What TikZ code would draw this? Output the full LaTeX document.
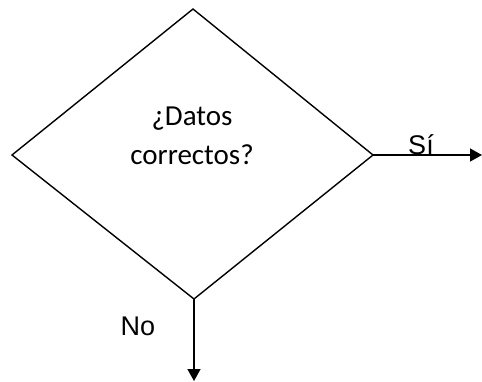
\documentclass[tikz,border=0pt]{standalone}
\usepackage{fontspec}
\setmainfont{Carlito}
\newfontfamily\arialfont{Liberation Sans}
\usetikzlibrary{arrows.meta}
\begin{document}
\begin{tikzpicture}[x=1pt,y=-1pt,
  edge/.style={line width=1.4pt,-{Triangle[length=12pt,width=13pt]}},
  shapeline/.style={line width=1.4pt,line join=miter},
  qtext/.style={align=center,font=\fontsize{29}{39}\selectfont,inner sep=0pt},
  lbl/.style={font=\arialfont\fontsize{27}{30}\selectfont,inner sep=0pt}]
\useasboundingbox (0,0) rectangle (482,381);
\coordinate (T) at (193,9);
\coordinate (L) at (12,155);
\coordinate (R) at (373,155);
\coordinate (B) at (194,299);
\coordinate (Rend) at (482,155);
\coordinate (Bend) at (194,381);
\draw[shapeline] (T) -- (R) -- (B) -- (L) -- cycle;
\node[qtext] (q) at (192,136) {¿Datos\\correctos?};
\draw[edge] (R) -- (Rend);
\draw[edge] (B) -- (Bend);
\node[lbl,anchor=base] (si) at (421,154) {Sí};
\node[lbl,anchor=base] (no) at (138,335) {No};
\end{tikzpicture}
\end{document}
